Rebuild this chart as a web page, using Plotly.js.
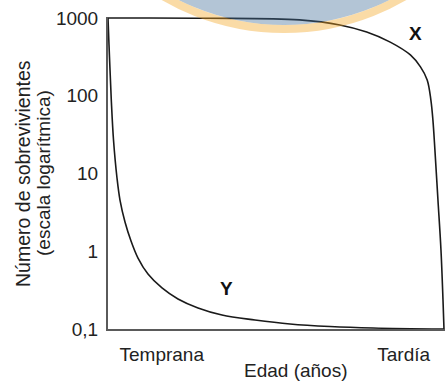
<!DOCTYPE html>
<html>
<head>
<meta charset="utf-8">
<script src="https://cdn.plot.ly/plotly-3.0.1.min.js"></script>
<style>html,body{margin:0;padding:0;background:#fff;}#chart{width:445px;height:383px;}</style>
</head>
<body>
<div id="chart"></div>
<script>
// Curve X (late mortality): relative age (0-100) and survivors (log scale)
const ageX = [0, 30, 57, 69, 77, 84, 90, 93, 95, 96.1, 96.7, 97.3, 98.2, 99.1, 99.7, 100];
const survX = [1000, 995, 945, 815, 660, 490, 335, 235, 160, 88, 49, 20, 4.6, 1.04, 0.24, 0.1];

// Curve Y (early mortality)
const ageY = [0, 0.30, 0.60, 0.98, 1.64, 2.68, 3.57, 5.06, 6.85, 8.93, 11.9, 16.07, 20.83, 26.79, 33.93, 43.75, 54.17, 66.07, 78.87, 100];
const survY = [1000, 450, 214, 88, 27, 8.75, 4.56, 2.38, 1.355, 0.818, 0.509, 0.337, 0.243, 0.186, 0.151, 0.1305, 0.116, 0.1077, 0.103, 0.1];

// Tick labels
const yTickVals = [0.1, 1, 10, 100, 1000];
const yTickText = ["0,1", "1", "10", "100", "1000"];
const xTickVals = [16, 88];
const xTickText = ["Temprana", "Tardía"];

const curveNames = ["X", "Y"];
const xTitle = "Edad (años)";
const yTitle1 = "Número de sobrevivientes";
const yTitle2 = "(escala logarítmica)";

const FONT = "Liberation Sans, Arial, sans-serif";
const lineStyle = {color: "#1a1a1a", width: 1.6, shape: "spline", smoothing: 1};

const traces = [
  {x: ageX, y: survX, mode: "lines", name: curveNames[0], line: lineStyle, hoverinfo: "skip"},
  {x: ageY, y: survY, mode: "lines", name: curveNames[1], line: lineStyle, hoverinfo: "skip"}
];

const layout = {
  width: 445, height: 383,
  margin: {l: 108, r: 0, t: 17, b: 54, pad: 0},
  paper_bgcolor: "#ffffff",
  plot_bgcolor: "rgba(0,0,0,0)",
  showlegend: false,
  font: {family: FONT, size: 19, color: "#222"},
  xaxis: {
    range: [0, 100.3], showgrid: false, zeroline: false,
    showline: true, linecolor: "#5a5a5a", linewidth: 2,
    tickvals: xTickVals, ticktext: xTickText, ticks: "",
    ticklabelstandoff: 7,
    tickfont: {family: FONT, size: 19, color: "#222"}
  },
  yaxis: {
    type: "log", range: [-1, 3.013], showgrid: false, zeroline: false,
    showline: true, linecolor: "#5a5a5a", linewidth: 2,
    tickvals: yTickVals, ticktext: yTickText, ticks: "",
    ticklabelstandoff: 4,
    tickfont: {family: FONT, size: 19, color: "#222"}
  },
  shapes: [
    {type: "circle", xref: "paper", yref: "paper", layer: "above",
     x0: -0.1751, x1: 1.2196, y0: 0.9744, y1: 2.4808,
     fillcolor: "#416e98", opacity: 0.4, line: {width: 0}},
    {type: "circle", xref: "paper", yref: "paper", layer: "above",
     x0: -0.1869, x1: 1.2315, y0: 0.9615, y1: 2.4936,
     fillcolor: "rgba(0,0,0,0)", opacity: 0.4, line: {color: "#f5a623", width: 8}}
  ],
  annotations: [
    {x: 91.4, y: Math.log10(641), xref: "x", yref: "y", text: "<b>" + curveNames[0] + "</b>",
     showarrow: false, font: {family: FONT, size: 19, color: "#111"}},
    {x: 35.2, y: Math.log10(0.335), xref: "x", yref: "y", text: "<b>" + curveNames[1] + "</b>",
     showarrow: false, font: {family: FONT, size: 19, color: "#111"}},
    {x: 0.558, y: -0.1731, xref: "paper", yref: "paper", text: xTitle, showarrow: false,
     xanchor: "center", yanchor: "bottom", font: {family: FONT, size: 19, color: "#222"}},
    {x: -0.2523, y: 0.50, xref: "paper", yref: "paper", text: yTitle1, showarrow: false,
     textangle: -90, xanchor: "center", yanchor: "middle", font: {family: FONT, size: 19.5, color: "#222"}},
    {x: -0.1929, y: 0.50, xref: "paper", yref: "paper", text: yTitle2, showarrow: false,
     textangle: -90, xanchor: "center", yanchor: "middle", font: {family: FONT, size: 19, color: "#222"}}
  ]
};

Plotly.newPlot("chart", traces, layout, {staticPlot: true, displayModeBar: false});
</script>
</body>
</html>
